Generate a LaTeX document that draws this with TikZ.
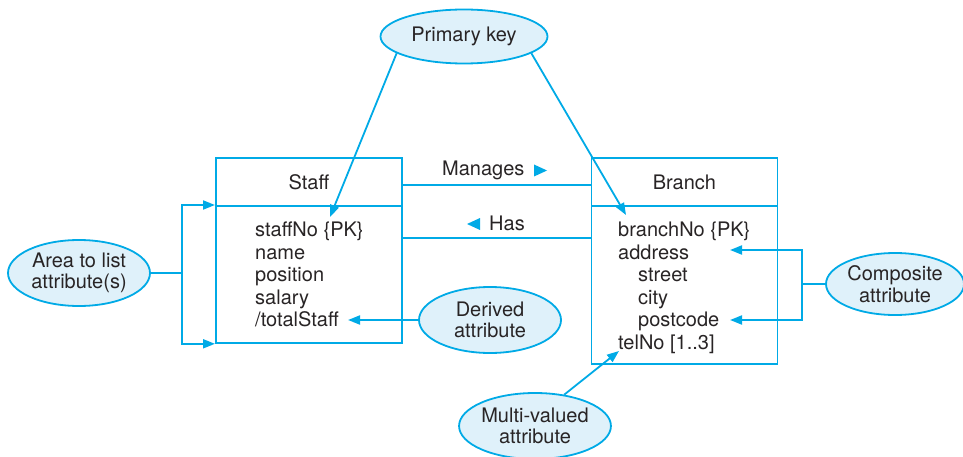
\documentclass[tikz,border=0pt]{standalone}
\usepackage{fontspec}
\setmainfont{TeX Gyre Heros}
\usetikzlibrary{shapes.geometric,arrows.meta,calc}
\definecolor{lc}{RGB}{0,170,230}
\definecolor{fc}{RGB}{223,241,250}
\definecolor{tc}{RGB}{40,36,37}
\newcommand\dfont{\fontsize{20}{21.5}\selectfont}
\begin{document}
\begin{tikzpicture}[x=1pt,y=-1pt,
  every node/.style={text=tc,font=\dfont},
  box/.style={draw=lc,line width=1.8pt,rectangle,inner sep=0pt,anchor=north west},
  ell/.style={ellipse,draw=lc,fill=fc,line width=1.8pt,inner sep=0pt,align=center},
  attr/.style={anchor=base west,inner sep=0pt},
  conn/.style={draw=lc,line width=1.8pt},
  arr/.style={conn,-{Triangle[length=12pt,width=9pt]}}]
\useasboundingbox (0,0) rectangle (963,457);
% boxes
\node[box,minimum width=186pt,minimum height=48pt] (staffH) at (215,157) {Staff};
\node[box,minimum width=186pt,minimum height=137pt] (staffB) at (215,205) {};
\node[box,minimum width=186pt,minimum height=48pt] (branchH) at (590.5,157) {Branch};
\node[box,minimum width=186pt,minimum height=158pt] (branchB) at (590.5,205) {};
% staff attributes
\node[attr] (s1) at (255,236.5) {staffNo \{PK\}};
\node[attr] (s2) at (255,259) {name};
\node[attr] (s3) at (255,281.5) {position};
\node[attr] (s4) at (255,304) {salary};
\node[attr] (s5) at (255,326.5) {/totalStaff};
% branch attributes
\node[attr] (b1) at (618,236.5) {branchNo \{PK\}};
\node[attr] (b2) at (618,259) {address};
\node[attr] (b3) at (638,281.5) {street};
\node[attr] (b4) at (638,304) {city};
\node[attr] (b5) at (638,326.5) {postcode};
\node[attr] (b6) at (618,349) {telNo [1..3]};
% relationships
\draw[conn] ($(staffH.east)+(0,3)$) -- ($(branchH.west)+(0,3)$);
\draw[conn] ($(staffB.north east)+(0,33)$) -- ($(branchB.north west)+(0,33)$);
\node[attr] (man) at (442,176) {Manages};
\fill[lc] (534,164.5) -- (547,170.5) -- (534,176.5) -- cycle;
\node[attr] (has) at (489,230) {Has};
\fill[lc] (480,218) -- (467,224) -- (480,230) -- cycle;
% ellipses
\node[ell,minimum width=167pt,minimum height=54pt] (pk) at (464,36.5) {Primary key};
\node[ell,minimum width=142pt,minimum height=66pt] (area) at (79,273) {Area to list\\attribute(s)};
\node[ell,minimum width=142pt,minimum height=66pt] (der) at (490,320) {Derived\\attribute};
\node[ell,minimum width=138pt,minimum height=62pt] (comp) at (895,284) {Composite\\attribute};
\node[ell,minimum width=143pt,minimum height=66pt] (mv) at (535,426) {Multi-valued\\attribute};
% connector ends
\coordinate (pkTipL) at (330,217);
\coordinate (pkTipR) at (626,215);
\coordinate (aj) at (182,273);
\coordinate (derTip) at (348,320);
\coordinate (cj) at (802,284);
\coordinate (addrTip) at (730,250);
\coordinate (pcTip) at (730,320);
\coordinate (telTip) at (619,351);
% connectors
\draw[arr] (pk.194) -- (pkTipL);
\draw[arr] (pk.346) -- (pkTipR);
\draw[conn] (area.east) -- (aj);
\draw[arr] (aj) |- (staffB.north west);
\draw[arr] (aj) |- (staffB.south west);
\draw[arr] (der.west) -- (derTip);
\draw[conn] (comp.west) -- (cj);
\draw[arr] (cj) |- (addrTip);
\draw[arr] (cj) |- (pcTip);
\draw[arr] (mv.47) -- (telTip);
\end{tikzpicture}
\end{document}
